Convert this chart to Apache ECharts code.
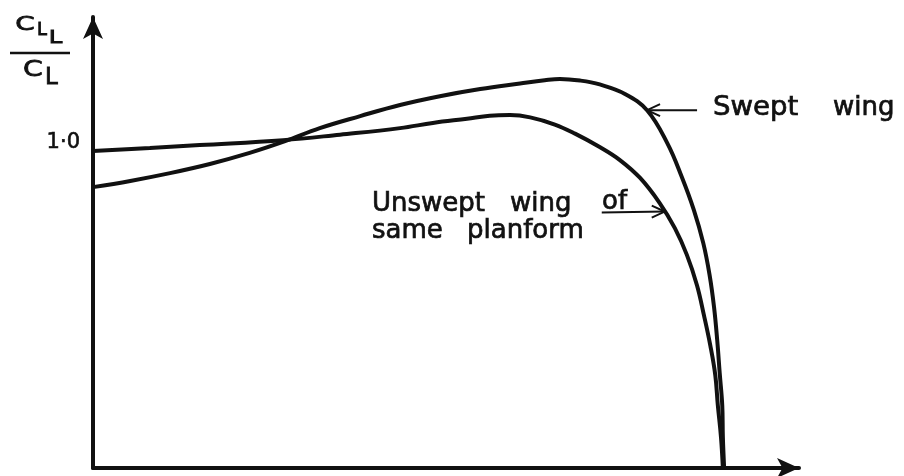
<!DOCTYPE html>
<html>
<head>
<meta charset="utf-8">
<script src="https://cdn.jsdelivr.net/npm/echarts@6/dist/echarts.min.js"></script>
<style>
  html, body { margin: 0; padding: 0; background: #fff; }
  #chart { width: 904px; height: 476px; }
</style>
</head>
<body>
<div id="chart"></div>
<script>
// Spanwise position (root = 0, tip = 1) and local lift ratio C_LL / C_L
const sweptX = [0, 0.059, 0.122, 0.185, 0.248, 0.304, 0.359, 0.423, 0.486, 0.549, 0.613, 0.676, 0.715, 0.739, 0.771, 0.802, 0.842, 0.877, 0.909, 0.932, 0.951, 0.966, 0.976, 0.983, 0.988, 0.992, 0.996, 0.997, 0.999];
const sweptY = [0.862, 0.881, 0.905, 0.933, 0.967, 1.003, 1.043, 1.080, 1.114, 1.141, 1.163, 1.180, 1.190, 1.194, 1.189, 1.177, 1.148, 1.098, 0.997, 0.893, 0.792, 0.690, 0.592, 0.494, 0.393, 0.291, 0.193, 0.095, 0];

const unsweptX = [0, 0.090, 0.169, 0.301, 0.391, 0.486, 0.538, 0.592, 0.628, 0.660, 0.692, 0.731, 0.763, 0.802, 0.834, 0.866, 0.897, 0.921, 0.940, 0.956, 0.967, 0.977, 0.985, 0.989, 0.994, 0.997];
const unsweptY = [0.973, 0.982, 0.991, 1.006, 1.023, 1.043, 1.059, 1.072, 1.081, 1.083, 1.076, 1.054, 1.026, 0.985, 0.945, 0.890, 0.813, 0.736, 0.654, 0.561, 0.469, 0.377, 0.285, 0.193, 0.095, 0];

// Labelled value on the ratio axis
const yTickLabels = { 1: '1·0' };

// Points on each curve that the annotation arrows point at
const sweptArrowAt = [0.877, 1.098];
const unsweptArrowAt = [0.905, 0.787];

const FONT = 'DejaVu Sans';
const INK = '#111';

const chart = echarts.init(document.getElementById('chart'), null, { renderer: 'canvas' });

const pairs = (xs, ys) => xs.map((x, i) => [x, ys[i]]);

const axisArrow = {
  show: true,
  symbol: ['none', 'arrow'],
  symbolSize: [15, 22],
  lineStyle: { color: INK, width: 4 }
};

chart.setOption({
  animation: false,
  backgroundColor: '#fff',
  grid: { left: 93, right: 105, top: 17, bottom: 8, containLabel: false },
  xAxis: {
    type: 'value', min: 0, max: 1.1175,
    axisLine: axisArrow,
    axisTick: { show: false },
    axisLabel: { show: false },
    splitLine: { show: false }
  },
  yAxis: {
    type: 'value', min: 0, max: 1.384, interval: 0.5,
    axisLine: axisArrow,
    axisTick: { show: false },
    splitLine: { show: false },
    axisLabel: {
      margin: 13,
      color: INK,
      fontFamily: FONT,
      fontSize: 21,
      textBorderColor: INK,
      textBorderWidth: 0.6,
      formatter: v => yTickLabels[v] || ''
    }
  },
  series: [
    {
      name: 'Swept wing',
      type: 'line',
      data: pairs(sweptX, sweptY),
      showSymbol: false,
      smooth: 0.4,
      lineStyle: { color: INK, width: 4 }
    },
    {
      name: 'Unswept wing of same planform',
      type: 'line',
      data: pairs(unsweptX, unsweptY),
      showSymbol: false,
      smooth: 0.4,
      lineStyle: { color: INK, width: 4 }
    }
  ]
});

// Annotation arrows and lettering
const tipS = chart.convertToPixel({ seriesIndex: 0 }, sweptArrowAt);
const tipU = chart.convertToPixel({ seriesIndex: 1 }, unsweptArrowAt);

function word(text, x, y, size, sx) {
  return {
    type: 'text', x: x, y: y, scaleX: sx || 1,
    style: {
      text: text, fill: INK, stroke: INK, lineWidth: 0.7,
      fontFamily: FONT, fontSize: size, align: 'left', verticalAlign: 'middle'
    }
  };
}
function glyph(text, cx, cy, size, sx) {
  return {
    type: 'text', x: cx, y: cy, scaleX: sx,
    style: {
      text: text, fill: INK, stroke: INK, lineWidth: 0.8,
      fontFamily: FONT, fontSize: size, align: 'center', verticalAlign: 'middle'
    }
  };
}
const thin = { stroke: INK, lineWidth: 2, fill: null };

chart.setOption({
  graphic: [
    // ratio symbol C_LL / C_L
    glyph('C', 25, 25, 20, 1.4),
    glyph('L', 42, 31, 17, 1.05),
    glyph('L', 55.5, 38.5, 18, 1.35),
    { type: 'line', shape: { x1: 10, y1: 53, x2: 70, y2: 53 }, style: { stroke: INK, lineWidth: 2.5 } },
    glyph('C', 33, 70.5, 21, 1.35),
    glyph('L', 51.5, 78.5, 23, 1.0),

    // swept wing arrow
    { type: 'line', shape: { x1: tipS[0], y1: tipS[1], x2: tipS[0] + 50, y2: tipS[1] }, style: thin },
    { type: 'polyline', shape: { points: [[tipS[0] + 13, tipS[1] - 6], [tipS[0], tipS[1]], [tipS[0] + 13, tipS[1] + 6]] }, style: thin },
    word('Swept', 713, 108, 26, 1.06),
    word('wing', 833, 108, 26),

    // unswept wing arrow (underlines "of")
    { type: 'line', shape: { x1: tipU[0] - 63, y1: tipU[1] + 1, x2: tipU[0], y2: tipU[1] }, style: thin },
    { type: 'polyline', shape: { points: [[tipU[0] - 13, tipU[1] - 6], [tipU[0], tipU[1]], [tipU[0] - 13, tipU[1] + 6]] }, style: thin },
    word('Unswept', 372, 204, 26),
    word('wing', 510, 204, 26),
    word('of', 602, 202, 26),
    word('same', 372, 231, 26),
    word('planform', 467, 231, 26)
  ]
});
</script>
</body>
</html>
